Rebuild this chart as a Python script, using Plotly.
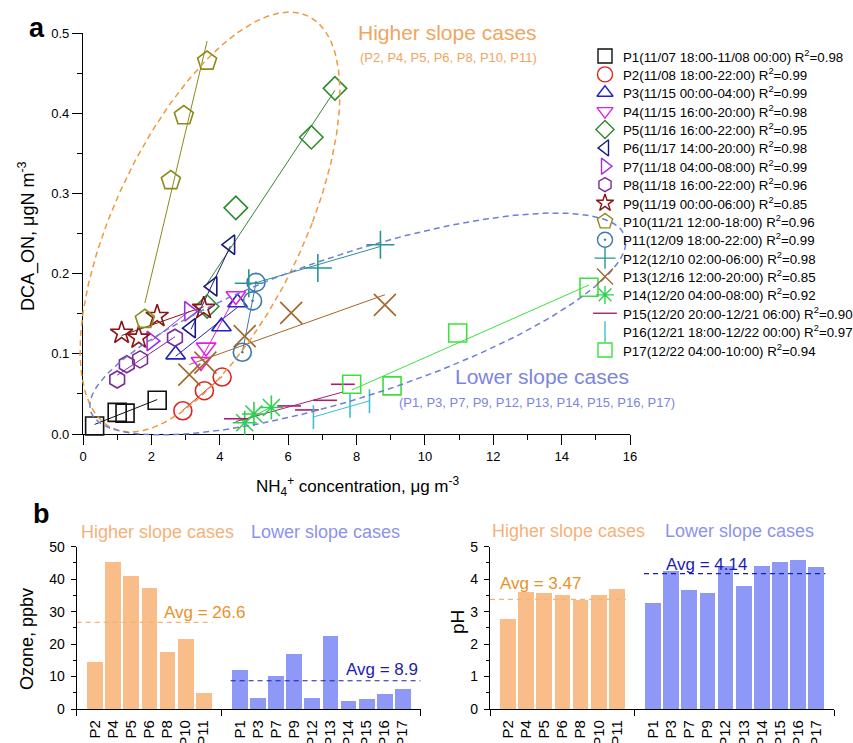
import numpy as np
import plotly.graph_objects as go

W, H = 853, 743
FONT = "Liberation Sans, Arial, sans-serif"

# ---------------- Panel a data ----------------
names = ["P1(11/07 18:00-11/08 00:00)", "P2(11/08 18:00-22:00)", "P3(11/15 00:00-04:00)",
         "P4(11/15 16:00-20:00)", "P5(11/16 16:00-22:00)", "P6(11/17 14:00-20:00)",
         "P7(11/18 04:00-08:00)", "P8(11/18 16:00-22:00)", "P9(11/19 00:00-06:00)",
         "P10(11/21 12:00-18:00)", "P11(12/09 18:00-22:00)", "P12(12/10 02:00-06:00)",
         "P13(12/16 12:00-20:00)", "P14(12/20 04:00-08:00)", "P15(12/20 20:00-12/21 06:00)",
         "P16(12/21 18:00-12/22 00:00)", "P17(12/22 04:00-10:00)"]
r2 = [0.98, 0.99, 0.99, 0.98, 0.95, 0.98, 0.99, 0.96, 0.85, 0.96, 0.99, 0.98, 0.85, 0.92, 0.90, 0.97, 0.94]

p1_x = [0.34, 1.0, 1.23, 2.17];            p1_y = [0.010, 0.027, 0.026, 0.042]
p2_x = [2.92, 3.55, 4.07];                 p2_y = [0.029, 0.054, 0.071]
p3_x = [2.71, 4.05, 4.52];                 p3_y = [0.099, 0.134, 0.164]
p4_x = [3.45, 3.6, 4.47];                  p4_y = [0.090, 0.108, 0.172]
p5_x = [3.63, 4.47, 6.68, 7.37];           p5_y = [0.159, 0.282, 0.370, 0.431]
p6_x = [3.16, 3.79, 4.31];                 p6_y = [0.132, 0.184, 0.236]
p7_x = [2.0, 3.1];                         p7_y = [0.116, 0.153]
p8_x = [1.0, 1.28, 1.67, 2.69];            p8_y = [0.068, 0.087, 0.093, 0.120]
p9_x = [1.13, 1.63, 2.17, 3.53];           p9_y = [0.126, 0.120, 0.147, 0.157]
p10_x = [1.81, 2.57, 2.95, 3.63];          p10_y = [0.143, 0.316, 0.397, 0.465]
p11_x = [4.66, 4.96, 5.06];                p11_y = [0.102, 0.166, 0.189]
p12_x = [4.85, 6.87, 8.7];                 p12_y = [0.188, 0.207, 0.236]
p13_x = [3.11, 3.58, 4.73, 6.09, 8.83];    p13_y = [0.074, 0.089, 0.122, 0.151, 0.161]
p14_x = [4.73, 5.0, 5.51];                 p14_y = [0.014, 0.025, 0.033]
p15_x = [4.47, 6.03, 6.55, 7.08, 7.6];     p15_y = [0.019, 0.035, 0.030, 0.042, 0.062]
p16_x = [6.74, 7.81, 8.38];                p16_y = [0.021, 0.035, 0.041]
p17_x = [7.86, 9.04, 10.96, 14.8];         p17_y = [0.062, 0.060, 0.126, 0.183]

xs = [p1_x, p2_x, p3_x, p4_x, p5_x, p6_x, p7_x, p8_x, p9_x, p10_x, p11_x, p12_x, p13_x, p14_x, p15_x, p16_x, p17_x]
ys = [p1_y, p2_y, p3_y, p4_y, p5_y, p6_y, p7_y, p8_y, p9_y, p10_y, p11_y, p12_y, p13_y, p14_y, p15_y, p16_y, p17_y]

symbols = ["square-open", "circle-open", "triangle-up-open", "triangle-down-open", "diamond-open",
           "triangle-left-open", "triangle-right-open", "hexagon-open", "star-open", "pentagon-open",
           "circle-open-dot", "cross-thin-open", "x-thin-open", "asterisk-open", "line-ew-open",
           "line-ns-open", "square-open"]
colors = ["#111111", "#E02424", "#2323C4", "#E020E0", "#2E8B2E", "#1A1A7E", "#A030E0", "#7B2A9B",
          "#8B1414", "#8C8A1A", "#3C78B0", "#2A9494", "#A0682A", "#2ED050", "#A52070", "#3CC0D0", "#3EE03E"]
sizes = [18, 18, 17, 17, 18, 17, 17, 17, 17, 20, 18, 20, 22, 20, 17, 17, 18]
legend_sizes = [14, 15, 14, 14, 14, 14, 14, 14, 13, 16, 15, 15, 16, 15, 17, 15, 14]

# ellipse parameters (data units)
orange_ell = dict(cx=3.715, cy=0.2643, h=0.2618, half=3.0, k=8.91)
blue_ell = dict(cx=8.04, cy=0.1372, w=7.84, half=0.0935, m=0.0130)

# ---------------- Panel b data ----------------
cats_high = ["P2", "P4", "P5", "P6", "P8", "P10", "P11"]
cats_low = ["P1", "P3", "P7", "P9", "P12", "P13", "P14", "P15", "P16", "P17"]
ozone_high = [14.6, 45.3, 41.2, 37.3, 17.6, 21.7, 5.0]
ozone_low = [12.0, 3.4, 10.2, 16.9, 3.4, 22.6, 2.7, 3.2, 4.6, 6.3]
ph_high = [2.79, 3.61, 3.58, 3.53, 3.38, 3.51, 3.71]
ph_low = [3.27, 4.26, 3.69, 3.58, 4.43, 3.79, 4.40, 4.53, 4.61, 4.38]
ozone_avg_label = ["26.6", "8.9"]
ph_avg_label = ["3.47", "4.14"]
ozone_avg_line = [26.7, 8.7]
ph_avg_line = [3.38, 4.17]

# ---------------- geometry helpers ----------------
def px(x):
    return x / W

def py(y):
    return 1 - y / H

A_X0, A_X1, A_Y0, A_Y1 = 83, 630, 434, 33   # pixel frame of panel a (x 0..16, y 0..0.5)
sx = (A_X1 - A_X0) / 16.0
sy = (A_Y0 - A_Y1) / 0.5
O_X0, O_X1, O_YT, O_YB = 40, 680, 4, 462    # overlay (unclipped) frame
ov_xrange = [(O_X0 - A_X0) / sx, (O_X1 - A_X0) / sx]
ov_yrange = [(A_Y0 - O_YB) / sy, (A_Y0 - O_YT) / sy]

LEG_SYM_X, LEG_TXT_X, LEG_Y0, LEG_DY = 605, 623, 56, 18.375

fig = go.Figure()

# dummy trace for visible panel-a axes
fig.add_trace(go.Scatter(x=[None], y=[None], xaxis="x", yaxis="y", showlegend=False, hoverinfo="skip"))

# fit lines
for i in range(17):
    xa = np.array(xs[i]); ya = np.array(ys[i])
    b1, b0 = np.polyfit(xa, ya, 1)
    xl = np.array([xa.min(), xa.max()])
    fig.add_trace(go.Scatter(x=xl, y=b0 + b1 * xl, mode="lines", xaxis="x3", yaxis="y3",
                             line=dict(color=colors[i], width=1), showlegend=False, hoverinfo="skip"))

# markers
for i in range(17):
    fig.add_trace(go.Scatter(x=xs[i], y=ys[i], mode="markers", xaxis="x3", yaxis="y3",
                             name=names[i], showlegend=False,
                             marker=dict(symbol=symbols[i], size=sizes[i], color=colors[i],
                                         line=dict(color=colors[i], width=1.6))))

# ellipses
t = np.linspace(0, 2 * np.pi, 300)
oy = orange_ell["cy"] + orange_ell["h"] * np.sin(t)
ox = orange_ell["cx"] + orange_ell["k"] * (oy - orange_ell["cy"]) + orange_ell["half"] * np.cos(t)
fig.add_trace(go.Scatter(x=ox, y=oy, mode="lines", xaxis="x3", yaxis="y3", showlegend=False,
                         hoverinfo="skip", line=dict(color="#EE9A40", width=1.5, dash="6px,4px")))
bx = blue_ell["cx"] + blue_ell["w"] * np.cos(t)
by = blue_ell["cy"] + blue_ell["m"] * (bx - blue_ell["cx"]) + blue_ell["half"] * np.sin(t)
fig.add_trace(go.Scatter(x=bx, y=by, mode="lines", xaxis="x3", yaxis="y3", showlegend=False,
                         hoverinfo="skip", line=dict(color="#6F7FD8", width=1.5, dash="6px,4px")))

# legend swatches (drawn on a pixel-space overlay)
for i in range(17):
    fig.add_trace(go.Scatter(x=[LEG_SYM_X], y=[LEG_Y0 + i * LEG_DY], mode="markers", xaxis="x5", yaxis="y5",
                             showlegend=False, hoverinfo="skip",
                             marker=dict(symbol=symbols[i], size=legend_sizes[i], color=colors[i],
                                         line=dict(color=colors[i], width=1.4))))

# ---------------- Panel b ----------------
pos_high = list(range(1, len(cats_high) + 1))
pos_low = list(range(len(cats_high) + 2, len(cats_high) + 2 + len(cats_low)))
n_slots = len(cats_high) + len(cats_low) + 2
ORANGE_BAR = "#F8BD88"
BLUE_BAR = "#8E98F6"

for (xa, ya, hv, lv, avg) in [("x2", "y2", ozone_high, ozone_low, ozone_avg_line),
                              ("x4", "y4", ph_high, ph_low, ph_avg_line)]:
    fig.add_trace(go.Bar(x=pos_high, y=hv, width=0.87, marker=dict(color=ORANGE_BAR, line=dict(width=0)),
                         xaxis=xa, yaxis=ya, showlegend=False, hoverinfo="skip"))
    fig.add_trace(go.Bar(x=pos_low, y=lv, width=0.87, marker=dict(color=BLUE_BAR, line=dict(width=0)),
                         xaxis=xa, yaxis=ya, showlegend=False, hoverinfo="skip"))
    fig.add_trace(go.Scatter(x=[0, pos_high[-1] + 0.5], y=[avg[0], avg[0]], mode="lines", xaxis=xa, yaxis=ya,
                             line=dict(color="#F2B27A", width=1.2, dash="5px,4px"), showlegend=False, hoverinfo="skip"))
    fig.add_trace(go.Scatter(x=[pos_low[0] - 0.5, n_slots - (0.5 if xa == "x4" else 0)], y=[avg[1], avg[1]],
                             mode="lines", xaxis=xa, yaxis=ya,
                             line=dict(color="#1E1EA8", width=1.2, dash="5px,4px"), showlegend=False, hoverinfo="skip"))

axis_common = dict(showline=True, linecolor="black", linewidth=1.3, showgrid=False, zeroline=False,
                   ticks="outside", tickcolor="black", tickwidth=1.2,
                   tickfont=dict(family=FONT, size=13, color="black"))

bar_x_common = dict(axis_common, range=[0, n_slots], tickvals=pos_high + pos_low, ticktext=cats_high + cats_low,
                    tickangle=-90, ticks="", tickfont=dict(family=FONT, size=15, color="black"),
                    ticklabelstandoff=4,
                    minor=dict(tickvals=[0, len(cats_high) + 1, n_slots], ticks="outside", ticklen=6,
                               tickwidth=1.2, tickcolor="black"))

B_YT, B_YB = 546.7, 709

fig.update_layout(
    width=W, height=H, margin=dict(l=0, r=0, t=0, b=0, autoexpand=False),
    paper_bgcolor="white", plot_bgcolor="rgba(0,0,0,0)",
    font=dict(family=FONT, color="black"), showlegend=False,
    xaxis=dict(axis_common, domain=[px(A_X0), px(A_X1)], range=[0, 16], dtick=2, ticklen=10, anchor="y",
               minor=dict(dtick=1, ticks="outside", ticklen=5, tickwidth=1.2, tickcolor="black")),
    yaxis=dict(axis_common, domain=[py(A_Y0), py(A_Y1)], range=[0, 0.5], dtick=0.1, tickformat=".1f",
               ticklen=10, anchor="x",
               minor=dict(dtick=0.05, ticks="outside", ticklen=5, tickwidth=1.2, tickcolor="black")),
    xaxis3=dict(domain=[px(O_X0), px(O_X1)], range=ov_xrange, visible=False, anchor="y3"),
    yaxis3=dict(domain=[py(O_YB), py(O_YT)], range=ov_yrange, visible=False, anchor="x3"),
    xaxis5=dict(domain=[0, 1], range=[0, W], visible=False, anchor="y5"),
    yaxis5=dict(domain=[0, 1], range=[H, 0], visible=False, anchor="x5"),
    xaxis2=dict(bar_x_common, domain=[px(76.7), px(420.7)], anchor="y2"),
    yaxis2=dict(axis_common, domain=[py(B_YB), py(B_YT)], range=[0, 50], dtick=10, ticklen=5, anchor="x2",
                tickfont=dict(family=FONT, size=14, color="black"), ticklabelstandoff=3,
                minor=dict(dtick=5, ticks="outside", ticklen=3, tickwidth=1.2, tickcolor="black")),
    xaxis4=dict(bar_x_common, domain=[px(490), px(834.3)], anchor="y4"),
    yaxis4=dict(axis_common, domain=[py(B_YB), py(B_YT)], range=[0, 5], dtick=1, ticklen=5, anchor="x4",
                tickfont=dict(family=FONT, size=14, color="black"), ticklabelstandoff=3,
                minor=dict(dtick=0.5, ticks="outside", ticklen=3, tickwidth=1.2, tickcolor="black")),
    bargap=0,
)

def ann(text, x, y, size, color="black", angle=0, xanchor="center"):
    fig.add_annotation(text=text, x=px(x), y=py(y), xref="paper", yref="paper", showarrow=False,
                       xanchor=xanchor, yanchor="middle", textangle=angle,
                       font=dict(family=FONT, size=size, color=color))

# legend texts
for i in range(17):
    ann(f"{names[i]} R<sup>2</sup>={r2[i]:.2f}", LEG_TXT_X - 2, LEG_Y0 + i * LEG_DY, 13.3, xanchor="left")

ann("<b>a</b>", 37, 28, 27)
ann("<b>b</b>", 41, 514, 27)
ann("DCA_ON, μgN m<sup>-3</sup>", 27, 236, 18, angle=-90)
ann("NH<sub>4</sub><sup>+</sup> concentration, μg m<sup>-3</sup>", 357, 486, 17)
ann("Higher slope cases", 447, 32, 21, "#F0A560")
ann("(P2, P4, P5, P6, P8, P10, P11)", 449, 58, 13, "#F0A560")
ann("Lower slope cases", 542, 376, 21, "#7B85DE")
ann("(P1, P3, P7, P9, P12, P13, P14, P15, P16, P17)", 537, 402, 13, "#7B85DE")

ann("Ozone, ppbv", 27, 639, 18, angle=-90)
ann("pH", 457, 622, 19, angle=-90)
ann("Higher slope cases", 157, 532, 18, "#F5B17A")
ann("Lower slope cases", 325, 532, 18, "#8C93EE")
ann("Higher slope cases", 568, 531, 18, "#F5B17A")
ann("Lower slope cases", 739, 531, 18, "#8C93EE")
ann(f"Avg = {ozone_avg_label[0]}", 204, 612, 17, "#E8922A")
ann(f"Avg = {ozone_avg_label[1]}", 382, 669, 17, "#1C1CB4")
ann(f"Avg = {ph_avg_label[0]}", 540, 583, 17, "#E8922A")
ann(f"Avg = {ph_avg_label[1]}", 706, 564, 17, "#1C1CB4")

fig.write_html("out.html", config={"displayModeBar": False},
               post_script="document.body.style.margin='0px';")
